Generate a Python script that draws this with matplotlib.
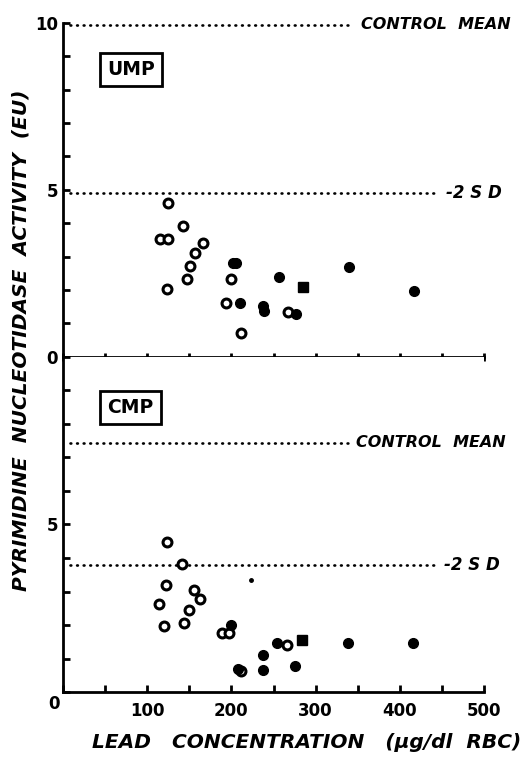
import numpy as np
import matplotlib
matplotlib.use("Agg")
import matplotlib.pyplot as plt

plt.rcParams['font.family'] = ['DejaVu Sans']
plt.rcParams['font.weight'] = 'bold'

# UMP (上段) データ
ump_open_x = [125, 115, 125, 143, 166, 157, 151, 147, 124, 200, 193, 211, 267]
ump_open_y = [4.62, 3.52, 3.52, 3.92, 3.42, 3.12, 2.72, 2.32, 2.03, 2.32, 1.60, 0.70, 1.35]
ump_fill_x = [202, 205, 210, 237, 239, 256, 277, 340, 417]
ump_fill_y = [2.80, 2.80, 1.62, 1.52, 1.38, 2.40, 1.28, 2.68, 1.98]
ump_sq_x = [285]
ump_sq_y = [2.10]
ump_mean = 9.95
ump_sd2 = 4.92

# CMP (下段) データ
cmp_open_x = [123, 141, 122, 155, 163, 114, 150, 144, 120, 189, 197, 211, 266]
cmp_open_y = [4.48, 3.81, 3.19, 3.04, 2.78, 2.62, 2.44, 2.07, 1.97, 1.77, 1.77, 0.63, 1.42]
cmp_fill_x = [200, 208, 254, 237, 237, 275, 338, 416]
cmp_fill_y = [2.01, 0.70, 1.48, 1.10, 0.67, 0.78, 1.48, 1.46]
cmp_sq_x = [284]
cmp_sq_y = [1.57]
cmp_dot_x = [223]
cmp_dot_y = [3.34]
cmp_mean = 7.43
cmp_sd2 = 3.80

x_ticks = [100, 200, 300, 400, 500]

fig = plt.figure(figsize=(5.21, 7.64), dpi=100)
ax1 = fig.add_axes([0.121, 0.533, 0.808, 0.437])
ax2 = fig.add_axes([0.121, 0.094, 0.808, 0.439])


def draw_panel(ax, ox, oy, fx, fy, sx, sy, mean, sd2, mean_end, sd_end):
    ax.plot(ox, oy, 'o', ms=6.4, mfc='white', mec='black', mew=2.2, ls='none', zorder=3)
    ax.plot(fx, fy, 'o', ms=7, color='black', ls='none', zorder=4)
    ax.plot(sx, sy, 's', ms=7.2, color='black', ls='none', zorder=4)
    # 点線 (control mean, -2SD)
    ax.plot([8, mean_end], [mean, mean], color='black', lw=1.9,
            ls=(0, (0.3, 2.2)), dash_capstyle='round')
    ax.plot([8, sd_end], [sd2, sd2], color='black', lw=1.9,
            ls=(0, (0.3, 2.2)), dash_capstyle='round')
    ax.set_xlim(0, 500)
    ax.set_ylim(0, 10)
    for s in ['top', 'right']:
        ax.spines[s].set_visible(False)
    for s in ['left', 'bottom']:
        ax.spines[s].set_linewidth(2.0)
    ax.set_xticks(np.arange(0, 501, 50))
    ax.set_yticks(np.arange(0, 11, 1))


draw_panel(ax1, ump_open_x, ump_open_y, ump_fill_x, ump_fill_y, ump_sq_x, ump_sq_y,
           ump_mean, ump_sd2, 338, 441)
draw_panel(ax2, cmp_open_x, cmp_open_y, cmp_fill_x, cmp_fill_y, cmp_sq_x, cmp_sq_y,
           cmp_mean, cmp_sd2, 338, 441)
ax2.plot(cmp_dot_x, cmp_dot_y, 'o', ms=2.5, color='black')

# 注記
ax1.text(354, ump_mean, 'CONTROL  MEAN', style='italic', fontsize=11.5,
         va='center', ha='left')
ax1.text(455, ump_sd2, '-2 S D', style='italic', fontsize=12, va='center', ha='left')
ax2.text(348, cmp_mean, 'CONTROL  MEAN', style='italic', fontsize=11.5,
         va='center', ha='left')
ax2.text(452, cmp_sd2, '-2 S D', style='italic', fontsize=12, va='center', ha='left')

box = dict(boxstyle='square,pad=0.38', fc='white', ec='black', lw=2)
ax1.text(81, 8.6, 'UMP', fontsize=13.5, ha='center', va='center', bbox=box)
ax2.text(80, 8.48, 'CMP', fontsize=13.5, ha='center', va='center', bbox=box)

# 目盛り
ax1.tick_params(axis='x', direction='inout', length=6, width=2, labelbottom=False)
ax1.tick_params(axis='y', direction='in', length=5, width=2)
ax1.set_yticklabels(['0', '', '', '', '', '5', '', '', '', '', '10'], fontsize=12)
ax2.tick_params(axis='x', direction='in', length=5, width=2, labelsize=12, pad=7)
ax2.tick_params(axis='y', direction='in', length=5, width=2)
ax2.set_yticklabels(['', '', '', '', '', '5', '', '', '', '', ''], fontsize=12)
ax2.set_xticklabels(['' if t not in x_ticks else str(t) for t in range(0, 501, 50)])
fig.text(0.104, 0.079, '0', fontsize=12, ha='center', va='center')

fig.text(0.040, 0.555, 'PYRIMIDINE  NUCLEOTIDASE  ACTIVITY  (EU)', rotation=90,
         style='italic', fontsize=14.5, ha='center', va='center')
fig.text(0.177, 0.028, 'LEAD   CONCENTRATION   (µg/dl  RBC)', style='italic',
         fontsize=14.5, ha='left', va='center')

fig.savefig('out.png', dpi=100)
